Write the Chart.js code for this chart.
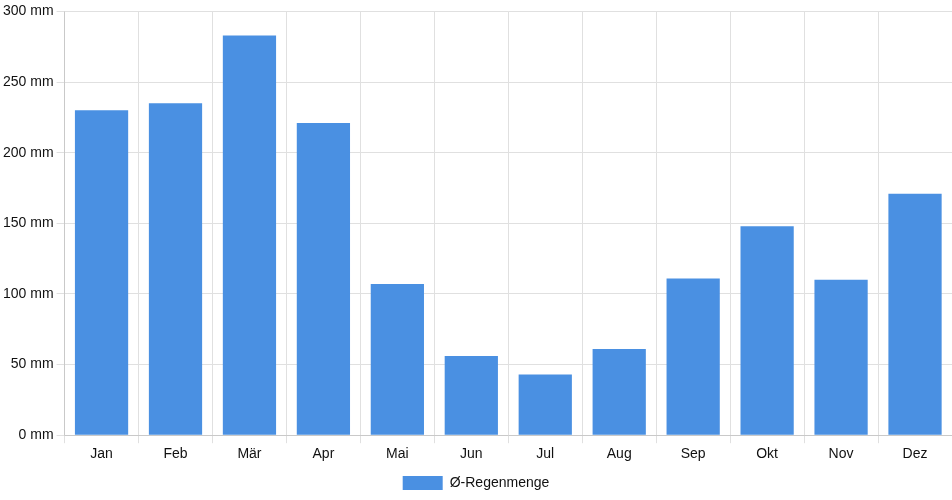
<!DOCTYPE html>
<html>
<head>
<meta charset="utf-8">
<script src="https://cdn.jsdelivr.net/npm/chart.js@4/dist/chart.umd.min.js"></script>
<style>
html,body{margin:0;padding:0;background:#fff;}
#wrap{width:952px;height:500px;}
</style>
</head>
<body>
<div id="wrap"><canvas id="c"></canvas></div>
<script>
const categories = ["Jan","Feb","Mär","Apr","Mai","Jun","Jul","Aug","Sep","Okt","Nov","Dez"];
const rainfall = [230, 235, 283, 221, 107, 56, 43, 61, 111, 148, 110, 171];
const seriesLabel = "Ø-Regenmenge";
const unit = " mm";

Chart.defaults.font.family = "'Liberation Sans', Arial, sans-serif";
Chart.defaults.font.size = 14;
Chart.defaults.color = "#111";

new Chart(document.getElementById('c'), {
  type: 'bar',
  data: {
    labels: categories,
    datasets: [{
      label: seriesLabel,
      data: rainfall,
      backgroundColor: '#4a90e2',
      borderColor: '#4a90e2',
      borderWidth: 0
    }]
  },
  options: {
    responsive: true,
    maintainAspectRatio: false,
    animation: false,
    layout: { padding: 0 },
    plugins: {
      legend: { position: 'bottom', labels: { boxWidth: 40, boxHeight: 14 } },
      tooltip: { enabled: false }
    },
    scales: {
      x: {
        grid: { color: '#e0e0e0', offset: true },
        ticks: { color: '#111' }
      },
      y: {
        min: 0, max: 300,
        ticks: { stepSize: 50, color: '#111', callback: v => v + unit },
        grid: { color: '#e0e0e0' }
      }
    }
  }
});
</script>
</body>
</html>
